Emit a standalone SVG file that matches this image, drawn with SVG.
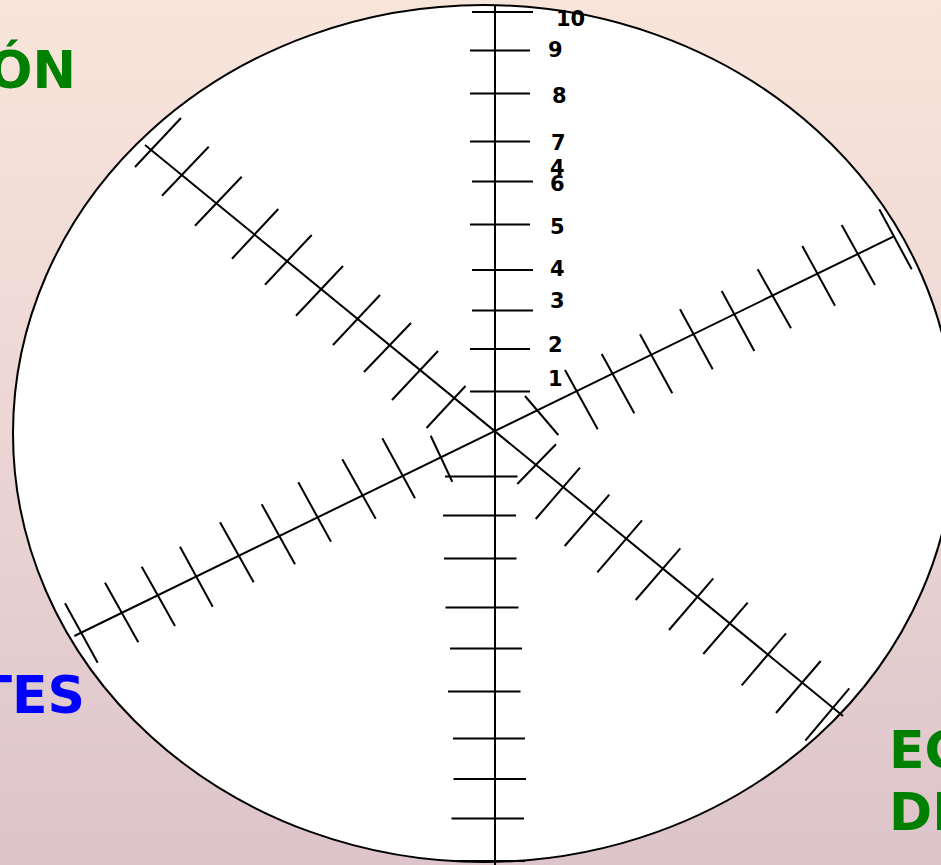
<svg xmlns="http://www.w3.org/2000/svg" width="941" height="865" viewBox="0 0 941 865">
<defs>
<linearGradient id="bg" x1="0" y1="0" x2="0" y2="1">
<stop offset="0" stop-color="#F8E5DA"/>
<stop offset="0.5" stop-color="#ECD6D4"/>
<stop offset="1" stop-color="#DCC4CA"/>
</linearGradient>
<style>
.ln{stroke:#000;stroke-width:2;fill:none;stroke-linecap:butt}
.num{font-family:"DejaVu Sans","Liberation Sans",sans-serif;font-weight:bold;font-size:21px;fill:#000}
.big{font-family:"DejaVu Sans","Liberation Sans",sans-serif;font-weight:bold;font-size:52px}
</style>
</defs>
<rect id="background" x="0" y="0" width="941" height="865" fill="url(#bg)"/>
<g id="titles">
<text class="big" x="76" y="88" text-anchor="end" fill="#008000">ÓN</text>
<text class="big" x="85" y="713" text-anchor="end" fill="#0000FF">TES</text>
<text class="big" x="889" y="768" fill="#008000">EC</text>
<text class="big" x="889" y="830" fill="#008000">DI</text>
</g>
<g id="dial">
<ellipse cx="484" cy="433.5" rx="471" ry="428.5" fill="#FFFFFF" stroke="#000" stroke-width="2"/>
</g>
<g id="connectors">
<g id="axes" class="ln">
<line x1="495" y1="5" x2="495" y2="865"/>
<line x1="145" y1="145" x2="843" y2="716"/>
<line x1="74.3" y1="636" x2="893.3" y2="236.7"/>
</g>
<g id="vertical-ticks" class="ln">
<line x1="472" y1="12" x2="533" y2="12"/>
<line x1="470" y1="50.5" x2="530" y2="50.5"/>
<line x1="470" y1="93.5" x2="530" y2="93.5"/>
<line x1="470" y1="141.5" x2="530" y2="141.5"/>
<line x1="472" y1="181.5" x2="533" y2="181.5"/>
<line x1="470" y1="224.5" x2="530" y2="224.5"/>
<line x1="472" y1="270" x2="533" y2="270"/>
<line x1="472" y1="310.5" x2="533" y2="310.5"/>
<line x1="470" y1="349" x2="530" y2="349"/>
<line x1="470" y1="391.5" x2="530" y2="391.5"/>
<line x1="445" y1="476.5" x2="517.5" y2="476.5"/>
<line x1="443" y1="515.5" x2="516" y2="515.5"/>
<line x1="444" y1="558.5" x2="516.5" y2="558.5"/>
<line x1="445.5" y1="607.5" x2="518.5" y2="607.5"/>
<line x1="450" y1="648.5" x2="522" y2="648.5"/>
<line x1="448" y1="691.5" x2="520.5" y2="691.5"/>
<line x1="453" y1="738.5" x2="525" y2="738.5"/>
<line x1="453.5" y1="779" x2="526" y2="779"/>
<line x1="451.5" y1="818.5" x2="524" y2="818.5"/>
<line x1="452" y1="861" x2="525" y2="861"/>
</g>
<g id="nw-ticks" class="ln">
<line x1="135" y1="167" x2="181" y2="118"/>
<line x1="162" y1="195.7" x2="208.7" y2="146.7"/>
<line x1="195" y1="225.7" x2="241.7" y2="176.7"/>
<line x1="232" y1="258.7" x2="278.3" y2="209"/>
<line x1="265" y1="284.7" x2="311.7" y2="235"/>
<line x1="296" y1="315.7" x2="343" y2="266"/>
<line x1="333" y1="345" x2="380" y2="295"/>
<line x1="364" y1="372" x2="411" y2="323"/>
<line x1="392" y1="400" x2="438" y2="351"/>
<line x1="426.5" y1="428" x2="465.5" y2="386"/>
</g>
<g id="se-ticks" class="ln">
<line x1="517.3" y1="484" x2="556" y2="444.3"/>
<line x1="535.7" y1="519" x2="580" y2="467.7"/>
<line x1="564.7" y1="546" x2="609.3" y2="494.7"/>
<line x1="597.3" y1="572.3" x2="642" y2="520.3"/>
<line x1="635.7" y1="600" x2="680.3" y2="548.3"/>
<line x1="669" y1="630" x2="713.3" y2="578.3"/>
<line x1="703.3" y1="654" x2="747.7" y2="602.7"/>
<line x1="741.7" y1="685.3" x2="786" y2="633.3"/>
<line x1="776" y1="713" x2="820.7" y2="661"/>
<line x1="805.3" y1="740.7" x2="849.3" y2="688.3"/>
</g>
<g id="sw-ticks" class="ln">
<line x1="65" y1="603.3" x2="97.7" y2="662.7"/>
<line x1="105" y1="582.7" x2="138.3" y2="642.3"/>
<line x1="141.7" y1="566.7" x2="175" y2="626"/>
<line x1="180" y1="546.7" x2="212.7" y2="606.7"/>
<line x1="220" y1="522.3" x2="253.7" y2="582.3"/>
<line x1="261.7" y1="504.3" x2="295" y2="564.3"/>
<line x1="298.3" y1="482.3" x2="331" y2="541.7"/>
<line x1="342.3" y1="459.3" x2="375.7" y2="518.7"/>
<line x1="382.3" y1="438.3" x2="415" y2="498.3"/>
<line x1="430.7" y1="435.7" x2="452.3" y2="481.7"/>
</g>
<g id="ne-ticks" class="ln">
<line x1="525" y1="396" x2="558.3" y2="435"/>
<line x1="565" y1="370" x2="597.7" y2="429.3"/>
<line x1="601.7" y1="354" x2="634.3" y2="413.3"/>
<line x1="640" y1="334.3" x2="672.3" y2="393.3"/>
<line x1="680" y1="309.3" x2="712.7" y2="369.3"/>
<line x1="721.7" y1="291" x2="754.3" y2="351"/>
<line x1="757.7" y1="269.3" x2="791" y2="328.3"/>
<line x1="802.3" y1="246" x2="835" y2="305.7"/>
<line x1="841.7" y1="225" x2="875" y2="285"/>
<line x1="879.3" y1="209.3" x2="911.7" y2="269.3"/>
</g>
</g>
<g id="labels">
<text class="num" x="556" y="26">10</text>
<text class="num" x="548" y="57">9</text>
<text class="num" x="552" y="103">8</text>
<text class="num" x="551" y="150">7</text>
<text class="num" x="550" y="175">4</text>
<text class="num" x="550" y="191">6</text>
<text class="num" x="550" y="234">5</text>
<text class="num" x="550" y="276">4</text>
<text class="num" x="550" y="308">3</text>
<text class="num" x="548" y="352">2</text>
<text class="num" x="548" y="386">1</text>
</g>
</svg>
